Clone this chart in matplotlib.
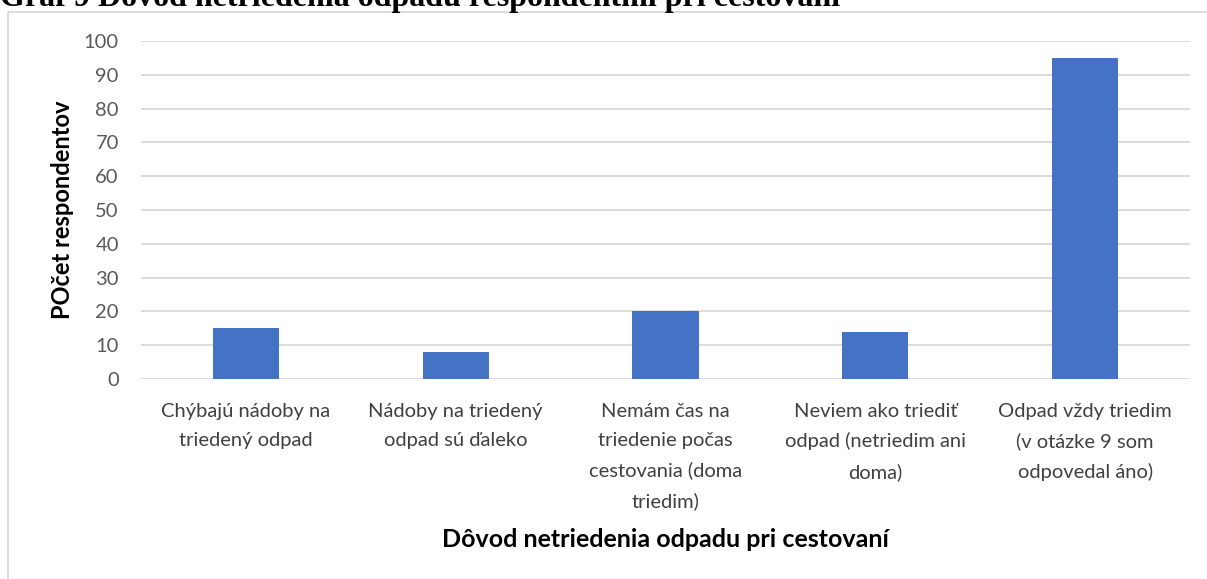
import numpy as np
import matplotlib.pyplot as plt
from matplotlib.patches import Rectangle

categories = [
    "Chýbajú nádoby na\ntriedený odpad",
    "Nádoby na triedený\nodpad sú ďaleko",
    "Nemám čas na\ntriedenie počas\ncestovania (doma\ntriedim)",
    "Neviem ako triediť\nodpad (netriedim ani\ndoma)",
    "Odpad vždy triedim\n(v otázke 9 som\nodpovedal áno)",
]
values = [15, 8, 20, 14, 95]
y_ticks = list(range(0, 101, 10))

title = "Graf 9 Dôvod netriedenia odpadu respondentmi pri cestovaní"
x_label = "Dôvod netriedenia odpadu pri cestovaní"
y_label = "POčet respondentov"

font = ["Lato", "DejaVu Sans"]
plt.rcParams['font.family'] = font

fig = plt.figure(figsize=(12.07, 5.79), dpi=100)
W, H = 1207, 579

# chart frame (cut off at right and bottom)
fig.patches.append(Rectangle((7.5 / W, -0.1), 1.2, 1 - 12.5 / H + 0.1,
                             transform=fig.transFigure, fill=False,
                             edgecolor='#d9d9d9', linewidth=1.3))

# title, partially cut off at the top
fig.text(0.0, 1 - 6 / H, title, fontsize=23, fontweight='bold',
         family=["Liberation Serif", "DejaVu Serif"], ha='left', va='baseline')

ax = fig.add_axes([141 / W, 1 - 379 / H, (1190 - 141) / W, (379 - 41) / H])
x = np.arange(len(categories))
ax.bar(x, values, width=0.315, color='#4472C4', zorder=3)

ax.set_xlim(-0.5, len(categories) - 0.5)
ax.set_ylim(0, 100)
ax.set_yticks(y_ticks)
ax.set_xticks(x)
ax.set_xticklabels(categories, fontsize=14.5, color='#404040', linespacing=1.85)
ax.tick_params(axis='y', labelsize=14.5, labelcolor='#595959', length=0, pad=16)
ax.tick_params(axis='x', length=0, pad=17)
ax.grid(axis='y', color='#d9d9d9', linewidth=1.3, zorder=0)
for s in ax.spines.values():
    s.set_visible(False)

ax.set_xlabel(x_label, fontsize=18, fontweight='bold', labelpad=13)
ax.set_ylabel(y_label, fontsize=17, fontweight='bold', labelpad=7)

fig.savefig('out.png', dpi=100)
